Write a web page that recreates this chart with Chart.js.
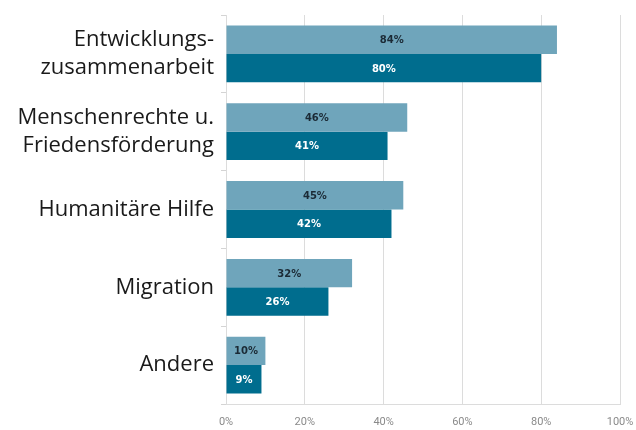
<!DOCTYPE html>
<html><head><meta charset="utf-8">
<script src="https://cdn.jsdelivr.net/npm/chart.js@4/dist/chart.umd.min.js"></script>
<style>html,body{margin:0;padding:0;background:#fff}#wrap{width:636px;height:430px}</style>
</head><body><div id="wrap"><canvas id="c" width="636" height="430"></canvas></div>
<script>
const categories = [["Entwicklungs-","zusammenarbeit"],["Menschenrechte u.","Friedensförderung"],["Humanitäre Hilfe"],["Migration"],["Andere"]];
const seriesA = [84, 46, 45, 32, 10];
const seriesB = [80, 41, 42, 26, 9];
const xTicks = [0, 20, 40, 60, 80, 100];

const labelPlugin = {
  id: 'barLabels',
  afterDatasetsDraw(chart) {
    const ctx = chart.ctx;
    chart.data.datasets.forEach((ds, di) => {
      const meta = chart.getDatasetMeta(di);
      meta.data.forEach((bar, i) => {
        const x = (bar.x + bar.base) / 2;
        ctx.save();
        ctx.font = 'bold 10px "DejaVu Sans", sans-serif';
        ctx.fillStyle = di === 0 ? '#1b2a35' : '#ffffff';
        ctx.textAlign = 'center';
        ctx.textBaseline = 'middle';
        ctx.fillText(ds.data[i] + '%', x, bar.y + 1);
        ctx.restore();
      });
    });
  }
};

new Chart(document.getElementById('c'), {
  type: 'bar',
  data: {
    labels: categories,
    datasets: [
      { data: seriesA, backgroundColor: '#6fa5bb', categoryPercentage: 0.73, barPercentage: 1.0 },
      { data: seriesB, backgroundColor: '#006d8e', categoryPercentage: 0.73, barPercentage: 1.0 }
    ]
  },
  options: {
    indexAxis: 'y',
    responsive: false,
    animation: false,
    layout: { padding: { top: 15, right: 16, left: 0, bottom: 0 } },
    plugins: { legend: { display: false }, tooltip: { enabled: false } },
    scales: {
      x: {
        min: 0, max: 100,
        afterBuildTicks(s) { s.ticks = xTicks.map(v => ({ value: v })); },
        afterFit(s) { s.height = 26; s.paddingLeft = 0; s.paddingRight = 0; },
        grid: { color: '#dcdcdc', drawTicks: false, lineWidth: 1 },
        border: { display: true, color: '#dcdcdc' },
        ticks: { color: '#8a8a8a', font: { family: 'Roboto, sans-serif', size: 11 }, padding: 12, callback: v => v + '%' }
      },
      y: {
        afterFit(s) { s.width = 226; s.paddingTop = 0; s.paddingBottom = 0; },
        grid: { drawOnChartArea: false, drawTicks: true, tickLength: 5, color: '#d4d4d4' },
        border: { display: true, color: '#dcdcdc' },
        ticks: { color: '#1a1a1a', font: { family: '"Open Sans", sans-serif', size: 22, lineHeight: 1.3 }, padding: 7 }
      }
    }
  },
  plugins: [labelPlugin]
});
</script></body></html>
